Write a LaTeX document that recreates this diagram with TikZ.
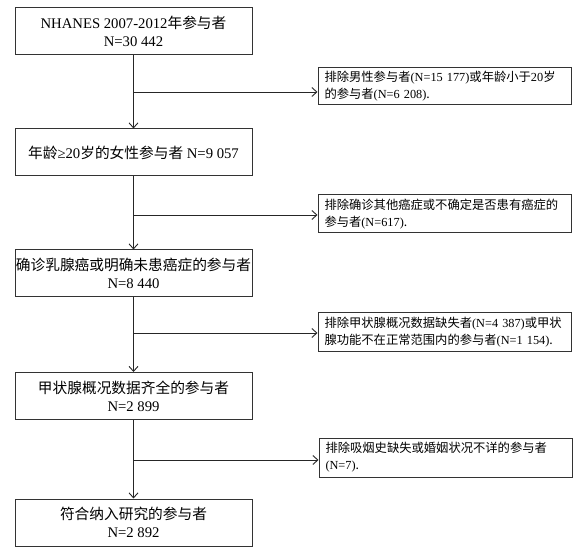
\documentclass[tikz,border=0pt]{standalone}
\usepackage{fontspec}
\setmainfont{Liberation Serif}
\newfontfamily\cjkfont{Noto Sans CJK SC}
\newcommand\zh[1]{{\cjkfont #1}}
\usetikzlibrary{arrows.meta}
\begin{document}
\begin{tikzpicture}[x=1pt,y=-1pt,
  mainbox/.style={draw=black!80, line width=1pt, minimum width=237pt, minimum height=47pt,
    align=center, font=\fontsize{14.7}{18}\selectfont, inner sep=0pt},
  sidebox/.style={draw=black!80, line width=1pt, minimum width=253pt, text width=240pt,
    align=left, font=\fontsize{12.3}{17}\selectfont, inner sep=0pt, inner xsep=6.5pt},
  flow/.style={draw=black!85, line width=0.9pt, -{Straight Barb[length=5pt,width=9pt]}},
  plain/.style={draw=black!85, line width=0.9pt}]
\useasboundingbox (0,0) rectangle (579,548);
\fill[white] (0,0) rectangle (579,548);

\node[mainbox] (b1) at (133.5,31.5) {NHANES 2007-2012\zh{年参与者}\\N=30 442};
\node[mainbox] (b2) at (133.5,152.5) {\zh{年龄}≥20\zh{岁的女性参与者} N=9 057};
\node[mainbox] (b3) at (133.5,273.5) {\zh{确诊乳腺癌或明确未患癌症的参与者}\\N=8 440};
\node[mainbox] (b4) at (133.5,396) {\zh{甲状腺概况数据齐全的参与者}\\N=2 899};
\node[mainbox] (b5) at (133.5,522.5) {\zh{符合纳入研究的参与者}\\N=2 892};

\node[sidebox, minimum height=37pt] (e1) at (444.5,86.5) {\zh{排除男性参与者}(N=15 177)\zh{或年龄小于}20\zh{岁}\\\zh{的参与者}(N=6 208)\zh{.}};
\node[sidebox, minimum height=38pt] (e2) at (444.5,214) {\zh{排除确诊其他癌症或不确定是否患有癌症的}\\\zh{参与者}(N=617)\zh{.}};
\node[sidebox, minimum height=39pt] (e3) at (444.5,332.5) {\zh{排除甲状腺概况数据缺失者}(N=4 387)\zh{或甲状}\\\zh{腺功能不在正常范围内的参与者}(N=1 154)\zh{.}};
\node[sidebox, minimum height=39pt] (e4) at (445.5,457.5) {\zh{排除吸烟史缺失或婚姻状况不详的参与者}\\(N=7)\zh{.}};

\coordinate (j1) at (133.5,92);
\coordinate (j2) at (133.5,215);
\coordinate (j3) at (133.5,333);
\coordinate (j4) at (133.5,460);

\draw[flow] (b1) -- (b2);
\draw[flow] (b2) -- (b3);
\draw[flow] (b3) -- (b4);
\draw[flow] (b4) -- (b5);
\draw[flow] (j1) -- (j1 -| e1.west);
\draw[flow] (j2) -- (j2 -| e2.west);
\draw[flow] (j3) -- (j3 -| e3.west);
\draw[flow] (j4) -- (j4 -| e4.west);
\end{tikzpicture}
\end{document}
